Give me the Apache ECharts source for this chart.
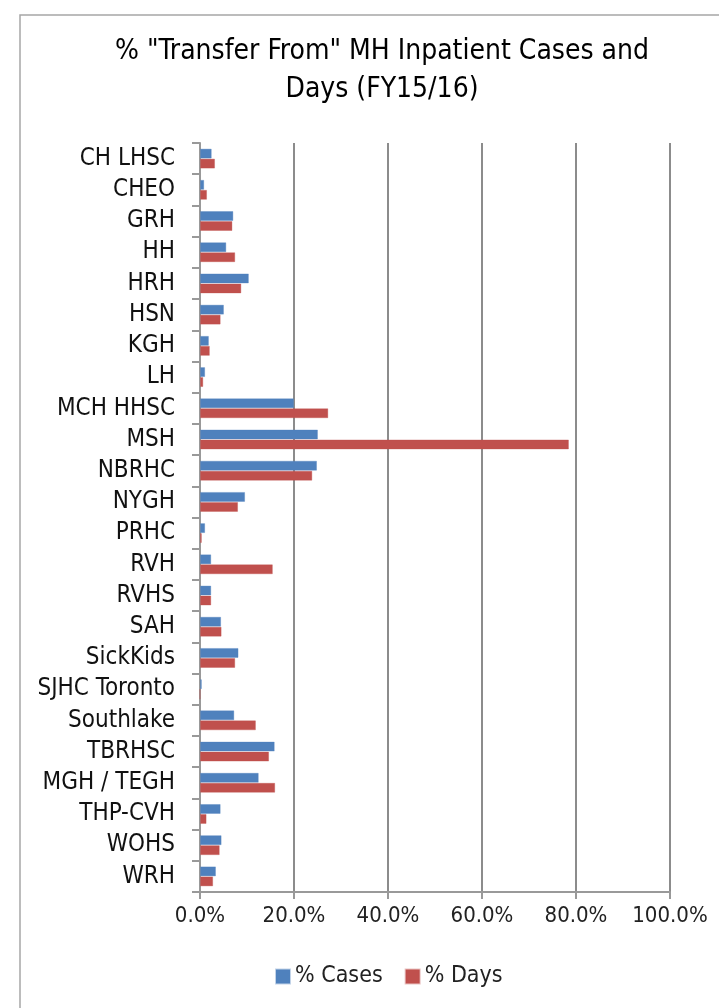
<!DOCTYPE html>
<html style="height: 100%">
<head>
<meta charset="utf-8">
</head>
<body style="height: 100%; margin: 0; background: #fff">
<div id="container" style="width: 719px; height: 1008px"></div>
<script type="text/javascript" src="https://cdn.jsdelivr.net/npm/echarts@6/dist/echarts.min.js"></script>
<script type="text/javascript">
var hospitals = ['CH LHSC', 'CHEO', 'GRH', 'HH', 'HRH', 'HSN', 'KGH', 'LH', 'MCH HHSC', 'MSH',
    'NBRHC', 'NYGH', 'PRHC', 'RVH', 'RVHS', 'SAH', 'SickKids', 'SJHC Toronto', 'Southlake',
    'TBRHSC', 'MGH / TEGH', 'THP-CVH', 'WOHS', 'WRH'];
var pctCases = [2.5, 0.9, 7.1, 5.6, 10.4, 5.1, 1.9, 1.1, 20.0, 25.1,
    24.9, 9.6, 1.1, 2.4, 2.4, 4.5, 8.2, 0.4, 7.3,
    15.9, 12.5, 4.4, 4.6, 3.4];
var pctDays = [3.2, 1.5, 6.9, 7.5, 8.8, 4.4, 2.1, 0.7, 27.3, 78.5,
    23.9, 8.1, 0.4, 15.5, 2.4, 4.6, 7.5, 0.0, 11.9,
    14.7, 16.0, 1.4, 4.2, 2.8];
var xTicks = [0, 20, 40, 60, 80, 100];

var font = "'Liberation Sans Narrow', 'DejaVu Sans Condensed', 'Roboto', sans-serif";

var myChart = echarts.init(document.getElementById('container'));

var option = {
    backgroundColor: '#fff',
    animation: false,
    textStyle: { fontFamily: font },
    title: {
        text: '% "Transfer From" MH Inpatient Cases and\nDays (FY15/16)',
        left: 377,
        top: 28,
        textAlign: 'center',
        textStyle: { fontFamily: font, fontSize: 28, fontWeight: 'normal', color: '#000', lineHeight: 38 }
    },
    graphic: [{
        type: 'rect',
        shape: { x: 20, y: 15, width: 720, height: 1010 },
        style: { fill: 'none', stroke: '#a6a6a6', lineWidth: 1.5 },
        silent: true
    }],
    legend: {
        data: ['% Cases', '% Days'],
        left: 270,
        top: 960,
        itemWidth: 14,
        itemHeight: 14,
        itemGap: 22,
        icon: 'rect',
        textStyle: { fontFamily: font, fontSize: 23, color: '#222' }
    },
    grid: { left: 200, right: 49, top: 143, bottom: 116 },
    xAxis: {
        type: 'value',
        min: 0,
        max: 100,
        interval: 20,
        axisLine: { show: true, lineStyle: { color: '#999', width: 2 } },
        axisTick: { show: true, length: 7, lineStyle: { color: '#999', width: 2 } },
        axisLabel: {
            margin: 13,
            fontFamily: font,
            fontSize: 22,
            color: '#222',
            formatter: function (v) { return xTicks.indexOf(v) >= 0 ? v.toFixed(1) + '%' : ''; }
        },
        splitLine: { show: true, lineStyle: { color: '#8c8c8c', width: 2 } }
    },
    yAxis: {
        type: 'category',
        data: hospitals,
        inverse: true,
        axisLine: { show: true, lineStyle: { color: '#999', width: 2 } },
        axisTick: { show: true, length: 8, lineStyle: { color: '#999', width: 2 } },
        axisLabel: { margin: 25, fontFamily: font, fontSize: 24, color: '#111' }
    },
    series: [{
        name: '% Cases',
        type: 'bar',
        data: pctCases,
        barGap: '0%',
        barCategoryGap: '36%',
        itemStyle: { color: '#4F81BD', borderColor: 'rgba(79,129,189,0.35)', borderWidth: 1 }
    }, {
        name: '% Days',
        type: 'bar',
        data: pctDays,
        itemStyle: { color: '#C0504D', borderColor: 'rgba(192,80,77,0.35)', borderWidth: 1 }
    }]
};

myChart.setOption(option);
</script>
</body>
</html>
